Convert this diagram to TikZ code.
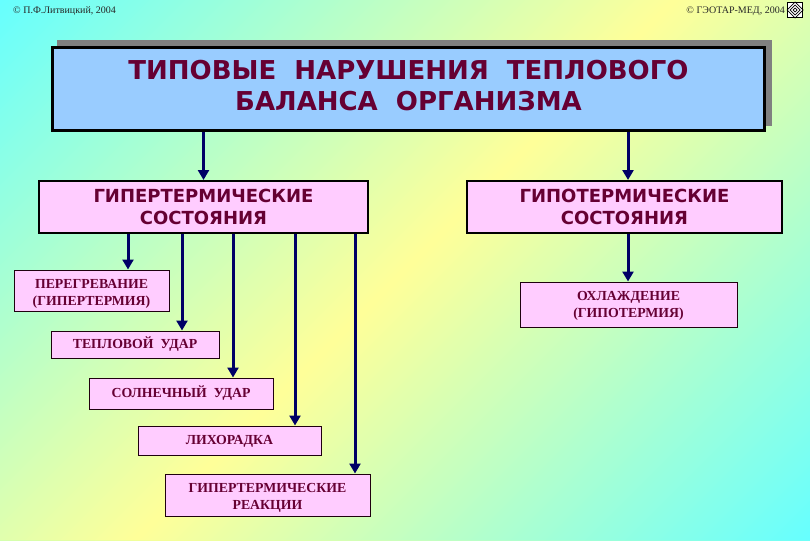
\documentclass[tikz,border=0pt]{standalone}
\usepackage{fontspec}
\setmainfont{Liberation Serif}
\newfontfamily\titlefont{DejaVu Sans}
\usetikzlibrary{arrows.meta}
\usetikzlibrary{positioning}
\definecolor{labeltext}{HTML}{660033}
\definecolor{arrownavy}{HTML}{000066}
\definecolor{boxpink}{HTML}{FFCCFF}
\definecolor{boxblue}{HTML}{99CCFF}
\definecolor{bgcyan}{HTML}{66FFFF}
\definecolor{bgyellow}{HTML}{FFFF99}
\tikzset{
  smallbox/.style={draw=black!70!labeltext, line width=1pt, fill=boxpink, text=labeltext, align=center, inner sep=0pt,
    font=\fontsize{13.8}{17}\selectfont\bfseries},
  groupbox/.style={draw=black, line width=2pt, fill=boxpink, text=labeltext, align=center, inner sep=0pt,
    font=\titlefont\fontsize{18}{22}\selectfont\bfseries},
  arrowline/.style={draw=arrownavy, line width=3pt, -{Triangle[length=10pt,width=11pt]}},
  copyrighttext/.style={font=\fontsize{10}{12}\selectfont, inner sep=0pt, text=black!85}
}
\begin{document}
\begin{tikzpicture}[x=1pt, y=-1pt]
\useasboundingbox (0,0) rectangle (810,540);

% background bands, each painted over the one before
\begin{scope}
\clip (0,0) rectangle (810,540);
\foreach \u [evaluate=\u as \f using {abs(\u+2.5-675)/6.75}] in {0,5,...,1345}
\fill[bgcyan!\f!bgyellow] (\u,0) -- (\u-540,540) -- (1400,540) -- (1400,0) -- cycle;
\end{scope}

\node[copyrighttext, anchor=west] (authortext) at (13,11) {© П.Ф.Литвицкий, 2004};
\node[copyrighttext, anchor=east] (publishertext) at (785,11) {© ГЭОТАР-МЕД, 2004};

% logo
\node[draw=black, fill=white, line width=.6pt, minimum size=15pt, inner sep=0pt] (logo) at (795,10) {};
\foreach \d in {2,5,8} \draw[black, line width=.7pt] (795-\d,10) -- (795,10-\d) -- (795+\d,10) -- (795,10+\d) -- cycle;

% title with its shadow
\fill[gray] (57,40) rectangle (772,126);
\node[draw=black, line width=3pt, fill=boxblue, text=labeltext, align=center, inner sep=0pt, minimum width=712pt, minimum height=83pt,
  font=\titlefont\fontsize{26}{31}\selectfont\bfseries] (title) at (408.5,89) {ТИПОВЫЕ\ \ НАРУШЕНИЯ\ \ ТЕПЛОВОГО\\БАЛАНСА\ \ ОРГАНИЗМА\rule[-8pt]{0pt}{0pt}};

\node[groupbox, minimum width=329pt, minimum height=52pt] (hyper) at (203.5,207) {ГИПЕРТЕРМИЧЕСКИЕ\\СОСТОЯНИЯ};
\node[groupbox, minimum width=315pt, minimum height=52pt] (hypo) at (624.5,207) {ГИПОТЕРМИЧЕСКИЕ\\СОСТОЯНИЯ};

\node[smallbox, minimum width=155pt, minimum height=41pt] (overheat) at (91.5,290.5) {\rule{0pt}{15pt}ПЕРЕГРЕВАНИЕ\\(ГИПЕРТЕРМИЯ)};
\node[smallbox, minimum width=168pt, minimum height=27pt] (heatstroke) at (135,344.5) {ТЕПЛОВОЙ\ \ УДАР};
\node[smallbox, minimum width=184pt, minimum height=31pt] (sunstroke) at (181,393.5) {СОЛНЕЧНЫЙ\ \ УДАР\rule[-2pt]{0pt}{0pt}};
\node[smallbox, minimum width=183pt, minimum height=29pt] (fever) at (229.5,440.5) {\rule{0pt}{11pt}ЛИХОРАДКА};
\node[smallbox, minimum width=205pt, minimum height=42pt] (reactions) at (267.5,495) {\rule{0pt}{15pt}ГИПЕРТЕРМИЧЕСКИЕ\\РЕАКЦИИ};
\node[smallbox, minimum width=217pt, minimum height=45pt] (cooling) at (628.5,304.5) {\rule{0pt}{11pt}ОХЛАЖДЕНИЕ\\(ГИПОТЕРМИЯ)};

\coordinate (hypoline) at (628,0);
\draw[arrowline] (title.south -| hyper.north) -- (hyper.north);
\draw[arrowline] (title.south -| hypoline) -- (hypo.north -| hypoline);
\draw[arrowline] (hypo.south -| hypoline) -- (cooling.north -| hypoline);

\foreach \x/\target in {128/overheat, 182/heatstroke, 233/sunstroke, 295/fever, 355/reactions}
\draw[arrowline] (hyper.south -| \x,0) -- (\target.north -| \x,0);

\end{tikzpicture}
\end{document}
